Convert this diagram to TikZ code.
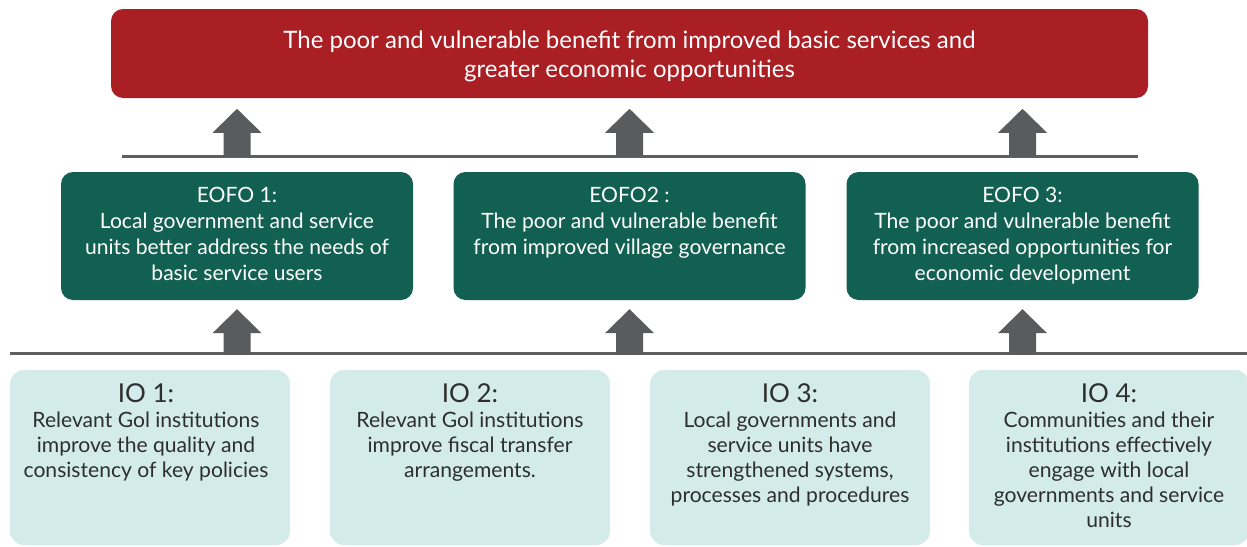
\documentclass[tikz,border=0pt]{standalone}
\usepackage{fontspec}
\setmainfont{Lato}
\usetikzlibrary{calc}
\definecolor{topred}{HTML}{AA1F24}
\definecolor{eofogreen}{HTML}{126052}
\definecolor{iobg}{HTML}{D3ECEA}
\definecolor{rulegray}{HTML}{5E5F61}
\definecolor{arrowgray}{HTML}{5A5B5D}
\definecolor{iotext}{HTML}{2E2E2E}
\newcommand\iotitlefont{\fontsize{26}{30}\selectfont}
\begin{document}
\begin{tikzpicture}[x=1pt,y=-1pt,
  goalbox/.style={fill=topred,draw=none,rounded corners=12pt,minimum width=1037pt,minimum height=89pt,inner sep=0pt},
  goaltext/.style={text=white,align=center,inner sep=0pt,font=\fontsize{24}{29}\selectfont},
  eofobox/.style={fill=eofogreen,draw=none,rounded corners=12pt,minimum width=352pt,minimum height=128pt,inner sep=0pt},
  eofotext/.style={text=white,align=center,inner sep=0pt,anchor=north,font=\fontsize{21.1}{26}\selectfont},
  iobox/.style={fill=iobg,draw=none,rounded corners=14pt,minimum width=280pt,minimum height=175pt,inner sep=0pt},
  iotxt/.style={text=iotext,align=center,inner sep=0pt,anchor=north,font=\fontsize{21.1}{25}\selectfont},
  rule/.style={draw=rulegray,line width=3pt},
  blockarrow/.style={fill=arrowgray,draw=none}]
\useasboundingbox (0,0) rectangle (1247,546);

% goal
\node[goalbox] (goal) at (629.5,53.5) {};
\node[goaltext] (goalt) at ($(goal.center)+(0,3)$) {The poor and vulnerable benefit from improved basic services and\\greater economic opportunities};

% EOFO boxes
\node[eofobox] (e1) at (237,236) {};
\node[eofobox] (e2) at (629.5,236) {};
\node[eofobox] (e3) at (1022.5,236) {};
\node[eofotext] (e1t) at ($(e1.north)+(0,15)$) {EOFO 1:\\Local government and service\\units better address the needs of\\basic service users};
\node[eofotext] (e2t) at ($(e2.north)+(0,15)$) {EOFO2 :\\The poor and vulnerable benefit\\from improved village governance};
\node[eofotext] (e3t) at ($(e3.north)+(0,15)$) {EOFO 3:\\The poor and vulnerable benefit\\from increased opportunities for\\economic development};

% IO boxes
\node[iobox] (i1) at (150,457.5) {};
\node[iobox] (i2) at (470,457.5) {};
\node[iobox] (i3) at (790,457.5) {};
\node[iobox] (i4) at (1109,457.5) {};
\node[iotxt] (i1t) at ($(i1.north)+(-4,13.5)$) {{\iotitlefont IO 1:}\\Relevant Gol institutions\\improve the quality and\\consistency of key policies};
\node[iotxt] (i2t) at ($(i2.north)+(0,13.5)$) {{\iotitlefont IO 2:}\\Relevant Gol institutions\\improve fiscal transfer\\arrangements.};
\node[iotxt] (i3t) at ($(i3.north)+(0,13.5)$) {{\iotitlefont IO 3:}\\Local governments and\\service units have\\strengthened systems,\\processes and procedures};
\node[iotxt] (i4t) at ($(i4.north)+(0,13.5)$) {{\iotitlefont IO 4:}\\Communities and their\\institutions effectively\\engage with local\\governments and service\\units};

% rules
\coordinate (r1a) at (122,156);
\coordinate (r1b) at (1138,156);
\coordinate (r2a) at (10,353);
\coordinate (r2b) at (1247,353);
\draw[rule] (r1a) -- (r1b);
\draw[rule] (r2a) -- (r2b);

% block arrows
\foreach \b in {e1,e2,e3}{
  \fill[blockarrow] ($(\b.north)+(-13.5,-15)$) -- ++(0,-24) -- ++(-11,0) -- ++(24.5,-24) -- ++(24.5,24) -- ++(-11,0) -- ++(0,24) -- cycle;
  \fill[blockarrow] ($(\b.south)+(-13.5,54)$) -- ++(0,-21) -- ++(-11,0) -- ++(24.5,-24) -- ++(24.5,24) -- ++(-11,0) -- ++(0,21) -- cycle;
}
\end{tikzpicture}
\end{document}
